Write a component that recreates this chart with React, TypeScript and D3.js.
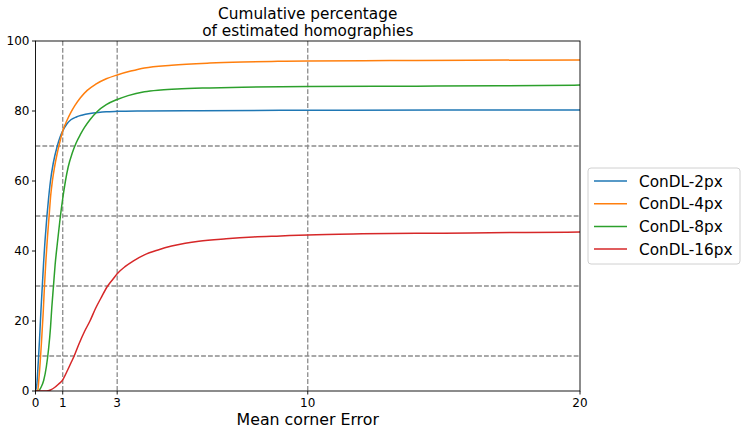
import React from "react";
import * as d3 from "d3";

const seriesNames = ["ConDL-2px", "ConDL-4px", "ConDL-8px", "ConDL-16px"];
const seriesColors = ["#1f77b4", "#ff7f0e", "#2ca02c", "#d62728"];

const blue: [number, number][] = [[0,0],[0.05,2],[0.1,8],[0.15,15],[0.2,23],[0.25,30],[0.3,37],[0.35,43],[0.42,50],[0.48,55],[0.55,60],[0.65,65],[0.8,70],[0.9,72.5],[1,74.3],[1.15,76.3],[1.3,77.5],[1.5,78.3],[1.7,78.8],[2,79.3],[2.3,79.6],[2.6,79.8],[3,79.9],[4,80.0],[6,80.1],[10,80.2],[15,80.3],[20,80.3]];
const orange: [number, number][] = [[0,0],[0.08,0],[0.12,3],[0.17,8],[0.22,14],[0.28,22],[0.33,30],[0.38,37],[0.44,44],[0.5,50],[0.56,56],[0.62,60],[0.7,64],[0.8,68],[0.9,71.3],[1,74.3],[1.15,77.2],[1.3,79.6],[1.45,81.6],[1.65,83.8],[1.9,85.9],[2.2,87.6],[2.6,89.2],[3,90.3],[3.5,91.4],[4,92.3],[5,93.1],[6.4,93.7],[7.6,94.0],[8.9,94.2],[10,94.3],[13,94.4],[16,94.5],[20,94.6]];
const green: [number, number][] = [[0,0],[0.1,0],[0.2,1],[0.3,3],[0.4,7],[0.48,12],[0.55,18],[0.6,24],[0.66,30],[0.72,36],[0.8,42],[0.9,49],[1,55],[1.1,60],[1.2,64],[1.35,68],[1.5,71],[1.65,73.3],[1.8,75.3],[2,77.5],[2.26,79.8],[2.6,81.8],[3,83.3],[3.4,84.4],[4,85.5],[4.6,86.0],[5.2,86.3],[6.4,86.6],[7.6,86.8],[10,87.0],[14,87.1],[17,87.2],[20,87.4]];
const red: [number, number][] = [[0,0],[0.4,0],[0.55,0.3],[0.7,1],[0.85,2],[1,3.2],[1.15,5.5],[1.3,8],[1.42,10],[1.6,13.5],[1.8,17],[2,20],[2.2,23.5],[2.4,26.5],[2.65,30],[2.85,32],[3,33.5],[3.3,35.6],[3.6,37.2],[4,38.9],[4.5,40.3],[5,41.4],[5.5,42.2],[6,42.8],[7,43.5],[8,44],[9,44.3],[10,44.6],[12,44.9],[15,45.1],[18,45.3],[20,45.4]];

const seriesData = [blue, orange, green, red];
const xTicks = [0, 1, 3, 10, 20];
const yTicks = [0, 20, 40, 60, 80, 100];
const vGrid = [1, 3, 10];
const hGrid = [10, 30, 50, 70];

const W = 747, H = 434;
const L = 35.5, R = 580, T = 41, B = 391;
const FONT = "DejaVu Sans, sans-serif";

export default function App() {
  const x = d3.scaleLinear().domain([0, 20]).range([L, R]);
  const y = d3.scaleLinear().domain([0, 100]).range([B, T]);
  const line = d3.line<[number, number]>().x(d => x(d[0])).y(d => y(d[1])).curve(d3.curveMonotoneX);
  const gridColor = "#8c8c8c";
  return (
    <svg width={W} height={H} style={{ position: "absolute", left: 0, top: 0, background: "#fff" }} fontFamily={FONT}>
      <defs>
        <clipPath id="plotclip"><rect x={L} y={T} width={R - L} height={B - T} /></clipPath>
      </defs>
      <text x={(L + R) / 2} y={19} textAnchor="middle" fontSize={15.3}>Cumulative percentage</text>
      <text x={(L + R) / 2} y={35.5} textAnchor="middle" fontSize={15.3}>of estimated homographies</text>
      {vGrid.map(v => (
        <line key={"v" + v} x1={x(v)} x2={x(v)} y1={T} y2={B} stroke={gridColor} strokeWidth={1.3} strokeDasharray="4.8,2.1" />
      ))}
      {hGrid.map(v => (
        <line key={"h" + v} x1={L} x2={R} y1={y(v)} y2={y(v)} stroke={gridColor} strokeWidth={1.3} strokeDasharray="4.8,2.1" />
      ))}
      <g clipPath="url(#plotclip)">
        {seriesData.map((s, i) => (
          <path key={i} d={line(s) || ""} fill="none" stroke={seriesColors[i]} strokeWidth={1.5} strokeLinejoin="round" />
        ))}
      </g>
      <rect x={L} y={T} width={R - L} height={B - T} fill="none" stroke="#000" strokeWidth={0.9} />
      {xTicks.map(t => (
        <g key={"xt" + t}>
          <line x1={x(t)} x2={x(t)} y1={B} y2={B + 3.5} stroke="#000" strokeWidth={0.9} />
          <text x={x(t)} y={407} textAnchor="middle" fontSize={12}>{t}</text>
        </g>
      ))}
      {yTicks.map(t => (
        <g key={"yt" + t}>
          <line x1={L - 3.5} x2={L} y1={y(t)} y2={y(t)} stroke="#000" strokeWidth={0.9} />
          <text x={L - 6} y={y(t)} dy="0.36em" textAnchor="end" fontSize={12}>{t}</text>
        </g>
      ))}
      <text x={(L + R) / 2} y={424.5} textAnchor="middle" fontSize={15.8}>Mean corner Error</text>
      <g>
        <rect x={588} y={168} width={152} height={96} rx={3} fill="#fff" fillOpacity={0.8} stroke="#d0d0d0" strokeWidth={1} />
        {seriesNames.map((n, i) => {
          const yy = 181 + i * 22.7;
          return (
            <g key={n}>
              <line x1={594} x2={627} y1={yy} y2={yy} stroke={seriesColors[i]} strokeWidth={1.5} />
              <text x={639} y={yy} dy="0.36em" fontSize={15.3}>{n}</text>
            </g>
          );
        })}
      </g>
    </svg>
  );
}
